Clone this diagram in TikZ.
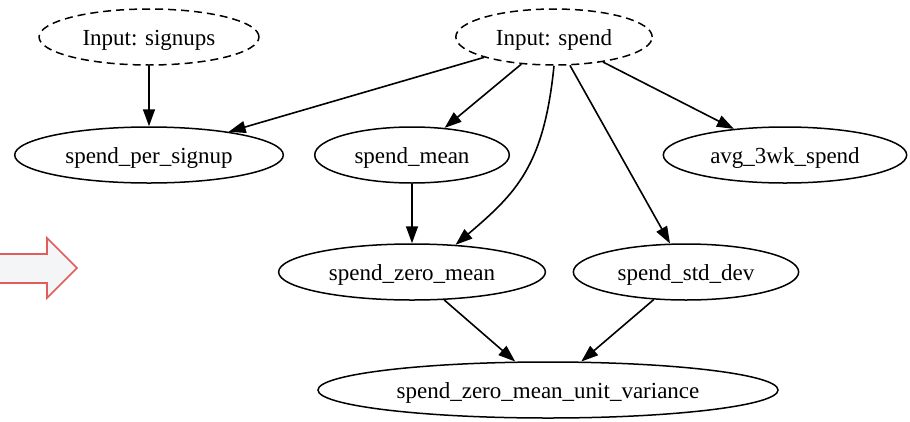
\documentclass[tikz,border=0pt]{standalone}
\usepackage{fontspec}
\setmainfont{Liberation Serif}
\usetikzlibrary{shapes.geometric,arrows.meta}

\tikzset{
  gnode/.style={ellipse, draw, line width=1.5pt, inner xsep=11.3pt, inner ysep=0pt,
    minimum height=56pt, text height=17pt, text depth=1pt,
    font=\fontsize{23}{27}\selectfont},
  inputnode/.style={gnode, dash pattern=on 8pt off 5pt},
  edge/.style={line width=1.6pt, -{Triangle[length=17pt,width=12pt]}},
  bigarrow/.style={draw=arrowred, fill=arrowfill, line width=1.6pt, line join=miter}
}
\definecolor{arrowred}{HTML}{E45B5B}
\definecolor{arrowfill}{HTML}{F4F5F7}

\begin{document}
\begin{tikzpicture}[x=1pt, y=-1pt]
  \fill[white] (0,0) rectangle (910,421);
  \useasboundingbox (0,0) rectangle (910,421);

  % block arrow on the left
  \draw[bigarrow] (-5,254) -- (47,254) -- (47,238) -- (77,268) -- (47,298) -- (47,283) -- (-5,283) -- cycle;

  % inputs
  \node[inputnode] (signups) at (149,37) {Input: signups};
  \node[inputnode] (spend)   at (554,37) {Input: spend};

  % second row
  \node[gnode] (persignup) at (149,155) {spend\_per\_signup};
  \node[gnode] (mean)      at (412,155) {spend\_mean};
  \node[gnode] (avg)       at (785,155) {avg\_3wk\_spend};

  % third row
  \node[gnode] (zeromean) at (412,272) {spend\_zero\_mean};
  \node[gnode] (stddev)   at (686,272) {spend\_std\_dev};

  % result
  \node[gnode] (unitvar) at (548,390) {spend\_zero\_mean\_unit\_variance};

  % dependencies
  \draw[edge] (signups) -- (persignup);
  \draw[edge] (spend) -- (persignup);
  \draw[edge] (spend) -- (mean);
  \draw[edge] (spend.south) .. controls +(-10,100) and +(61,-52) .. (zeromean.32);
  \draw[edge] (spend) -- (stddev);
  \draw[edge] (spend) -- (avg);
  \draw[edge] (mean) -- (zeromean);
  \draw[edge] (zeromean) -- (unitvar);
  \draw[edge] (stddev) -- (unitvar);
\end{tikzpicture}
\end{document}
